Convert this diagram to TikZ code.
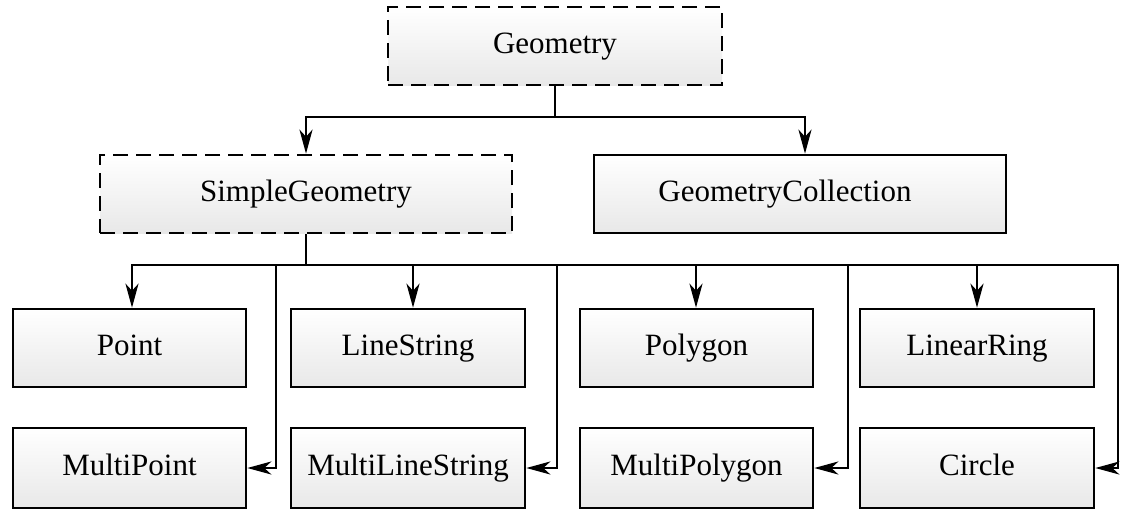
\documentclass[tikz,border=0pt]{standalone}
\usepackage{fontspec}
\setmainfont{Liberation Serif}
\usetikzlibrary{arrows.meta,calc}
\begin{document}
\begin{tikzpicture}[x=1pt,y=-1pt,
  box/.style={draw=black,line width=2.6pt,rectangle,top color=white,bottom color=gray!18,
    minimum height=78pt,inner sep=0pt,text height=21pt,text depth=6pt,font=\fontsize{31}{35}\selectfont},
  dbox/.style={box,dash pattern=on 15pt off 8pt},
  conn/.style={draw=black,line width=2.6pt,-{Stealth[length=24pt,width=13pt,inset=7pt]}},
  plain/.style={draw=black,line width=2.6pt}]
\useasboundingbox (0,0) rectangle (1128,517);
% nodes
\node[dbox,minimum width=334pt] (geo) at (555,46) {Geometry};
\node[dbox,minimum width=412pt] (sg) at (306,194) {SimpleGeometry};
\node[box,minimum width=412pt] (gc) at (800,194) {\hspace*{-30pt}GeometryCollection};
\node[box,minimum width=233pt] (pt) at (129.5,348) {Point};
\node[box,minimum width=234pt] (ls) at (408,348) {LineString};
\node[box,minimum width=233pt] (pg) at (696.5,348) {Polygon};
\node[box,minimum width=234pt] (lr) at (977,348) {LinearRing};
\node[box,minimum width=233pt,minimum height=80pt] (mpt) at (129.5,468) {MultiPoint};
\node[box,minimum width=234pt,minimum height=80pt] (mls) at (408,468) {MultiLineString};
\node[box,minimum width=233pt,minimum height=80pt] (mpg) at (696.5,468) {MultiPolygon};
\node[box,minimum width=234pt,minimum height=80pt] (cir) at (977,468) {Circle};
% bus coordinates
\coordinate (b1) at (555,117);
\coordinate (b2) at (306,265);
% top level
\draw[plain] (geo.south) -- (b1);
\draw[conn] (b1) -| (sg.north);
\draw[conn] (b1) -| ($(gc.north)+(5,0)$);
% second level
\draw[plain] (sg.south) -- (b2);
\draw[plain] (132,265) -- (1118,265);
\draw[conn] (b2) -| ($(pt.north)+(2.5,0)$);
\draw[conn] (b2) -| ($(ls.north)+(5,0)$);
\draw[conn] (b2) -| ($(pg.north)+(-0.5,0)$);
\draw[conn] (b2) -| (lr.north);
\draw[conn] (b2) -| (276,265) |- (mpt.east);
\draw[conn] (b2) -| (557,265) |- (mls.east);
\draw[conn] (b2) -| (848,265) |- (mpg.east);
\draw[conn] (b2) -| (1118,265) |- (cir.east);
\end{tikzpicture}
\end{document}
